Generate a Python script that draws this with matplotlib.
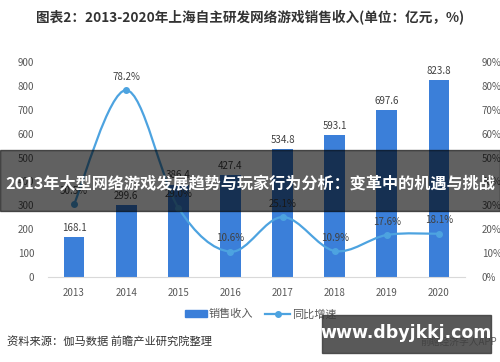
import numpy as np
import matplotlib.pyplot as plt
from matplotlib.path import Path
from matplotlib.patches import PathPatch, Rectangle
from matplotlib.lines import Line2D

plt.rcParams['font.family'] = ['Noto Sans CJK SC', 'DejaVu Sans']

# ===================== DATA =====================
years = ['2013', '2014', '2015', '2016', '2017', '2018', '2019', '2020']
revenue = [168.1, 299.6, 386.4, 427.4, 534.8, 593.1, 697.6, 823.8]
growth = [30.5, 78.2, 29.0, 10.6, 25.1, 10.9, 17.6, 18.1]
left_ticks = [0, 100, 200, 300, 400, 500, 600, 700, 800, 900]
right_ticks = [0, 10, 20, 30, 40, 50, 60, 70, 80, 90]

BAR = '#3b7fd9'
LINE = '#4da3e0'
TXT = '#595959'


def smooth_path(xs, ys, t=0.5):
    # catmull-rom style bezier through the points (like Excel's smoothed line)
    xs = np.asarray(xs, float)
    ys = np.asarray(ys, float)
    pts = np.column_stack([xs, ys])
    verts = [pts[0]]
    codes = [Path.MOVETO]
    n = len(pts)
    for i in range(n - 1):
        p0 = pts[i - 1] if i > 0 else pts[i]
        p1 = pts[i]
        p2 = pts[i + 1]
        p3 = pts[i + 2] if i + 2 < n else pts[i + 1]
        c1 = p1 + (p2 - p0) * t / 3
        c2 = p2 - (p3 - p1) * t / 3
        verts += [c1, c2, p2]
        codes += [Path.CURVE4] * 3
    return Path(verts, codes)


fig = plt.figure(figsize=(5, 3.62), dpi=100)
ax = fig.add_axes([0.096, 0.2348, 0.834, 0.594])
x = np.arange(len(years))

ax.bar(x, revenue, width=0.4, color=BAR, zorder=2)
for xi, v in zip(x, revenue):
    ax.text(xi, v + 18, f'{v:.1f}', ha='center', va='bottom', fontsize=7, color='#404040')

ax.set_xlim(-0.5, len(years) - 0.5)
ax.set_ylim(0, 900)
ax.set_yticks(left_ticks)
ax.set_xticks(x)
ax.set_xticklabels(years)
ax.tick_params(axis='both', length=0, labelsize=7, colors=TXT)
ax.tick_params(axis='x', pad=8)
ax.tick_params(axis='y', pad=10)
for s in ['top', 'right', 'left']:
    ax.spines[s].set_visible(False)
ax.spines['bottom'].set_color('#d9d9d9')

ax2 = ax.twinx()
ax2.set_ylim(0, 90)
ax2.set_yticks(right_ticks)
ax2.set_yticklabels([f'{t}%' for t in right_ticks])
ax2.tick_params(axis='y', length=0, labelsize=7, colors=TXT, pad=12)
for s in ax2.spines.values():
    s.set_visible(False)

ax2.add_patch(PathPatch(smooth_path(x, growth), fill=False, edgecolor=LINE, lw=1.6, zorder=3))
ax2.plot(x, growth, 'o', color=LINE, ms=4, zorder=4)
for xi, g in zip(x, growth):
    ax2.text(xi, g + 3.5, f'{g:.1f}%', ha='center', va='bottom', fontsize=7, color='#404040')

# title
fig.text(0.5, 0.95, '图表2：2013-2020年上海自主研发网络游戏销售收入(单位：亿元，%)',
         ha='center', va='center', fontsize=9.8, fontweight='bold', color='#333333')

# legend
fig.patches.append(Rectangle((0.37, 0.123), 0.044, 0.022, transform=fig.transFigure,
                             color=BAR, figure=fig))
fig.text(0.418, 0.132, '销售收入', ha='left', va='center', fontsize=8, color=TXT)
fig.lines.append(Line2D([0.53, 0.58], [0.132, 0.132], transform=fig.transFigure,
                        color=LINE, lw=1.6))
fig.lines.append(Line2D([0.555], [0.132], transform=fig.transFigure,
                        color=LINE, marker='o', ms=4))
fig.text(0.584, 0.132, '同比增速', ha='left', va='center', fontsize=8, color=TXT)

# source
fig.text(0.014, 0.056, '资料来源：伽马数据 前瞻产业研究院整理', ha='left', va='center',
         fontsize=8.1, color='#333333')
fig.text(0.995, 0.055, '前瞻经济学人APP', ha='right', va='center', fontsize=7, color='#666666')

# banner overlay
fig.patches.append(Rectangle((0.0, 0.417), 1.0, 0.169, transform=fig.transFigure,
                             color='black', alpha=0.62, figure=fig, zorder=10))
fig.text(0.5, 0.49, '2013年大型网络游戏发展趋势与玩家行为分析：变革中的机遇与挑战',
         ha='center', va='center', fontsize=11.6, fontweight='bold', color='white', zorder=11)

# site box bottom right
fig.patches.append(Rectangle((0.644, 0.025), 0.338, 0.105, transform=fig.transFigure,
                             color='#3c3c3c', alpha=0.85, figure=fig, zorder=10))
fig.text(0.813, 0.08, 'www.dbyjkkj.com', ha='center', va='center', fontsize=12.5,
         fontweight='bold', color='white', zorder=11, family='DejaVu Sans')

fig.savefig('out.png', dpi=100)
